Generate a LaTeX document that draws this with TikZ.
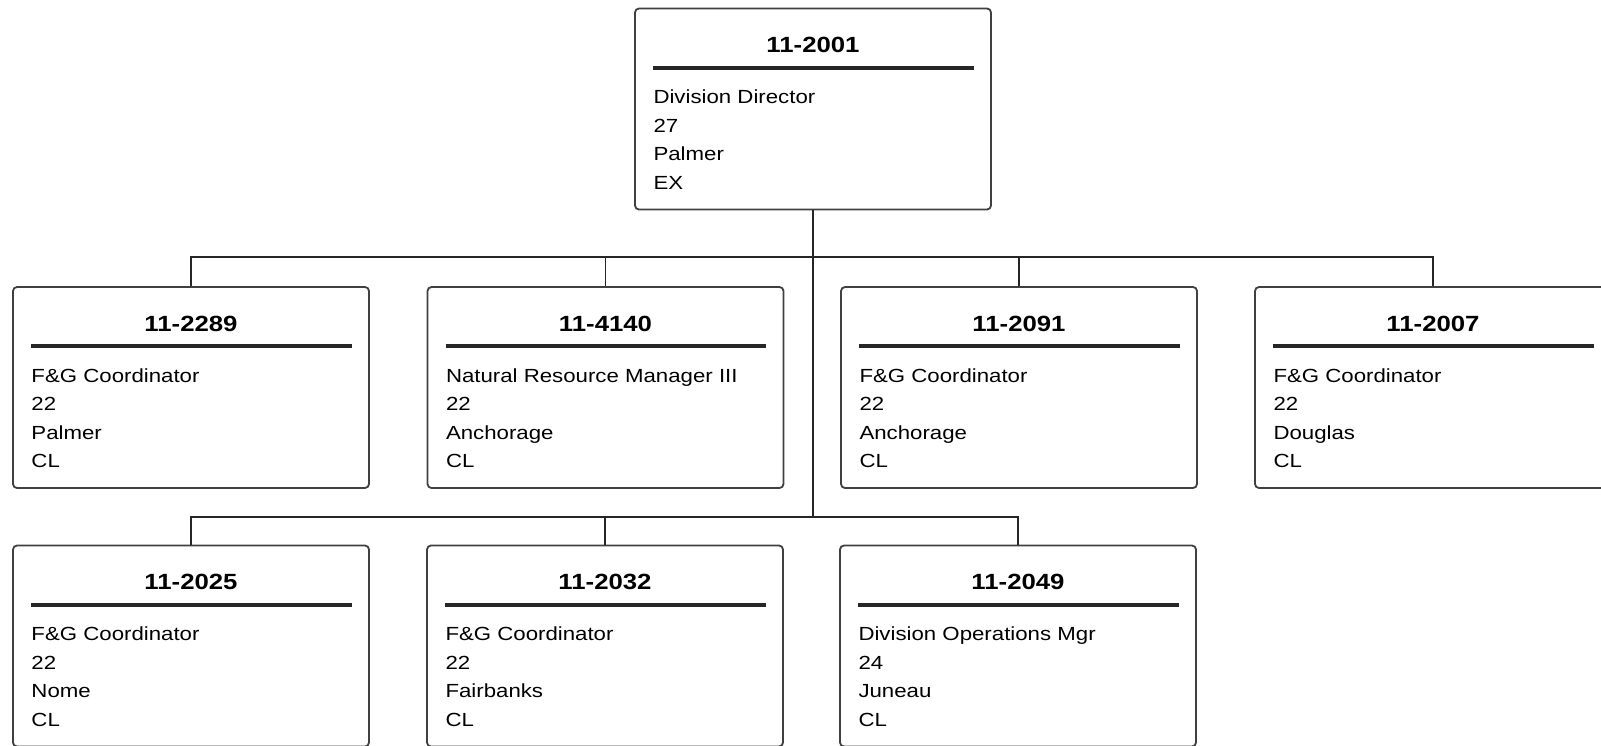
\documentclass[tikz,border=0pt]{standalone}
\usepackage{fontspec}
\setmainfont[FakeStretch=1.17]{Liberation Sans}
\begin{document}
\begin{tikzpicture}[x=0.5pt,y=-0.5pt,
  posbox/.style={draw=black!75, line width=0.9pt, rounded corners=2pt, fill=white,
    minimum width=178pt, minimum height=100.5pt, inner sep=0pt},
  posnum/.style={anchor=base, inner sep=0pt, font=\fontsize{11}{13}\selectfont\bfseries},
  posinfo/.style={anchor=north west, inner sep=0pt, align=left,
    font=\fontsize{9.5}{14.25}\selectfont},
  rulebar/.style={line width=2pt, black!85},
  link/.style={line width=0.8pt, black!85}]
\useasboundingbox (0,0) rectangle (1601,745);

% one position: name, x, y, number, title, range, location, class
\def\posbox#1#2#3#4#5#6#7#8{
  \node[posbox] (#1) at (#2,#3) {};
  \node[posnum] (#1num) at ([yshift=-22.5pt]#1.north) {#4};
  \draw[rulebar] ([xshift=9.5pt,yshift=-30pt]#1.north west) -- ([xshift=-9pt,yshift=-30pt]#1.north east);
  \node[posinfo] (#1info) at ([xshift=9.5pt,yshift=-38pt]#1.north west) {\strut#5\\#6\\#7\\#8};
}

\posbox{p2001}{813}{109}{11-2001}{Division Director}{27}{Palmer}{EX}

\posbox{p2289}{191}{387.5}{11-2289}{F\&G Coordinator}{22}{Palmer}{CL}
\posbox{p4140}{605.5}{387.5}{11-4140}{Natural Resource Manager III}{22}{Anchorage}{CL}
\posbox{p2091}{1019}{387.5}{11-2091}{F\&G Coordinator}{22}{Anchorage}{CL}
\posbox{p2007}{1433}{387.5}{11-2007}{F\&G Coordinator}{22}{Douglas}{CL}

\posbox{p2025}{191}{646}{11-2025}{F\&G Coordinator}{22}{Nome}{CL}
\posbox{p2032}{605}{646}{11-2032}{F\&G Coordinator}{22}{Fairbanks}{CL}
\posbox{p2049}{1018}{646}{11-2049}{Division Operations Mgr}{24}{Juneau}{CL}

% connectors
\coordinate (busA) at (813,257);
\coordinate (busB) at (813,517);
\draw[link] (p2001.south) -- (busB);
\draw[link] (p2289.north) -- (p2289.north |- busA) -- (p2007.north |- busA) -- (p2007.north);
\draw[link] (p4140.north) -- (p4140.north |- busA);
\draw[link] (p2091.north) -- (p2091.north |- busA);
\draw[link] (p2025.north) -- (p2025.north |- busB) -- (p2049.north |- busB) -- (p2049.north);
\draw[link] (p2032.north) -- (p2032.north |- busB);
\end{tikzpicture}
\end{document}
